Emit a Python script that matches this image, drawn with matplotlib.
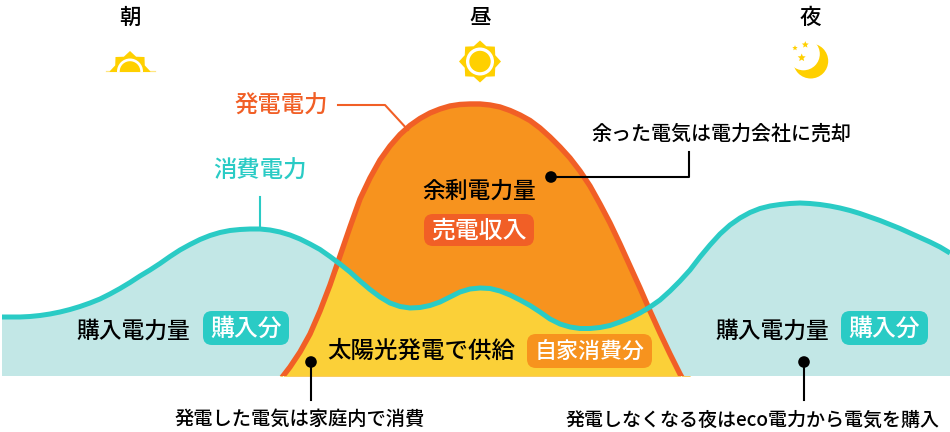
import numpy as np
import matplotlib
matplotlib.use("Agg")
import matplotlib.pyplot as plt
from matplotlib.patches import Circle, FancyBboxPatch, Polygon, Rectangle

plt.rcParams['font.family'] = ['Noto Sans CJK JP', 'DejaVu Sans']

# ---- data (image-space readings along the horizontal time axis) ----
time_x = list(range(0, 960, 10))
consumption = [317, 317, 317, 316.5, 315.5, 314, 312, 309.5, 306.5, 303, 299, 294, 288.5, 282.5, 276, 270,
               263.5, 256.5, 250, 244.5, 239.5, 235.5, 232.5, 230.5, 229.5, 229, 229, 230, 232, 235, 239, 244,
               249.5, 256.5, 264, 272, 281, 289.5, 297, 303, 306.5, 308, 307.5, 305.5, 302, 297, 292, 289,
               288, 288.5, 291, 295, 300, 305.5, 312, 319, 324, 327, 328.5, 328.5, 327.5, 325.5, 322, 318,
               313, 307, 300, 291, 281, 270, 257, 245, 234, 225, 218, 212.5, 208.5, 206, 204.5, 203.5,
               203, 203.5, 204.5, 206, 208, 210.5, 213.5, 217, 220.5, 224.5, 228.5, 233, 237.5, 242, 247, 253]
gen_x = list(range(280, 700, 10))
generation = [380, 367, 352, 334, 311, 285, 256, 227, 199, 178, 160, 146, 134.5, 125.5, 118.5, 113, 109,
              106, 104.5, 104, 104, 105, 107, 110.5, 115, 120.5, 128, 137, 147, 158, 171, 186, 204, 223,
              244, 266, 288, 311, 333, 354, 374, 392]
baseline = 376

time_labels = ["朝", "昼", "夜"]
series_labels = ["発電電力", "消費電力"]

RED = "#F15F26"
ORANGE = "#F7931E"
YELLOW = "#FBD038"
TEAL = "#2ACBC5"
PALE = "#C2E7E6"
SUN = "#FFD000"

fig = plt.figure(figsize=(9.5, 4.32), dpi=100)
ax = fig.add_axes([0, 0, 1, 1])
ax.set_xlim(0, 950)
ax.set_ylim(432, 0)
ax.axis("off")

tx = np.array(time_x, float)
cy = np.array(consumption, float)
gx = np.array(gen_x, float)
gy = np.array(generation, float)
cy_on_g = cy[(tx >= gx[0]) & (tx <= gx[-1])]

clip = Rectangle((0, 0), 950, baseline, transform=ax.transData)

f = ax.fill_between(tx, cy, baseline, color=PALE, lw=0, zorder=1)
f.set_clip_path(clip)
f = ax.fill_between(gx, gy, baseline, color=ORANGE, lw=0, zorder=2)
f.set_clip_path(clip)
f = ax.fill_between(gx, np.maximum(gy, cy_on_g), baseline, color=YELLOW, lw=0, zorder=3)
f.set_clip_path(clip)
l, = ax.plot(gx, gy, color=RED, lw=3.9, zorder=4, solid_joinstyle="round")
l.set_clip_path(clip)
ax.plot(tx, cy, color=TEAL, lw=3.6, zorder=5, solid_joinstyle="round", solid_capstyle="butt")
ax.add_patch(Rectangle((0, 300), 1.5, 80, color="white", lw=0, zorder=6))

# ---- leaders ----
ax.plot([338, 385, 408], [105, 105, 130], color=RED, lw=1.5, zorder=3.5)
ax.plot([260, 260], [197, 229], color=TEAL, lw=1.5, zorder=3.5)
ax.plot([551, 689, 689], [177, 177, 152], color="black", lw=1.5, zorder=7)
ax.plot([311, 311], [362, 400], color="black", lw=1.5, zorder=7)
ax.plot([804, 804], [362, 400], color="black", lw=1.5, zorder=7)
for cx, cyy in [(551, 177), (311, 362), (804, 362)]:
    ax.add_patch(Circle((cx, cyy), 5.8, color="black", lw=0, zorder=8))


def star(cx, cy_, r_out, r_in, n, rot=-90.0):
    ang = np.radians(rot) + np.arange(2 * n) * np.pi / n
    rad = np.where(np.arange(2 * n) % 2 == 0, r_out, r_in)
    return np.column_stack([cx + rad * np.cos(ang), cy_ + rad * np.sin(ang)])


# ---- icons ----
morning_clip = Rectangle((100, 40), 60, 31.5, transform=ax.transData)
for patch in [Polygon(star(130, 71.5, 20.5, 16, 8), color=SUN, lw=0, zorder=3),
              Circle((130, 71.5), 13, color="white", lw=0, zorder=4),
              Circle((130, 71.5), 10.3, color=SUN, lw=0, zorder=5)]:
    ax.add_patch(patch)
    patch.set_clip_path(morning_clip)
ax.plot([106, 155], [71, 71], color="#FFE680", lw=0.9, zorder=2)

ax.add_patch(Polygon(star(480, 61.5, 21, 16.5, 8), color=SUN, lw=0, zorder=3))
ax.add_patch(Circle((480, 61.5), 14, color="white", lw=0, zorder=4))
ax.add_patch(Circle((480, 61.5), 10.7, color=SUN, lw=0, zorder=5))

ax.add_patch(Circle((810.7, 61), 17.5, color=SUN, lw=0, zorder=3))
ax.add_patch(Circle((803.5, 54), 16.3, color="white", lw=0, zorder=4))
for sx, sy, sr in [(805.3, 44.7, 3.6), (795, 48, 2.8), (801.7, 57.7, 4.2)]:
    ax.add_patch(Polygon(star(sx, sy, sr, sr * 0.45, 5), color=SUN, lw=0, zorder=5))


# ---- text ----
def label(x, y, s, size, color="black", ha="center", weight="medium"):
    ax.text(x, y + 1.5, s, fontsize=size, color=color, ha=ha, va="center", weight=weight, zorder=10)


def pill(x0, y0, x1, y1, s, size, color):
    ax.add_patch(FancyBboxPatch((x0 + 9, y0 + 9), x1 - x0 - 18, y1 - y0 - 18,
                                boxstyle="round,pad=9,rounding_size=9", fc=color, ec="none", zorder=9,
                                mutation_aspect=1))
    label((x0 + x1) / 2, (y0 + y1) / 2 - 0.5, s, size, color="white")


for x, s in zip([130, 480, 810], time_labels):
    label(x, 16.5, s, 15.5)
label(281, 105, series_labels[0], 16.8, color=RED)
label(259.5, 170, series_labels[1], 16.8, color=TEAL)
label(479, 190, "余剰電力量", 16.4)
pill(424, 214, 534, 246, "売電収入", 17.2, RED)
label(721, 132, "余った電気は電力会社に売却", 14.4)
label(421, 350, "太陽光発電で供給", 16.9)
pill(527, 334, 652, 368, "自家消費分", 15.8, ORANGE)
label(133, 330, "購入電力量", 16.4)
pill(203, 311, 289, 345, "購入分", 17.2, TEAL)
label(772, 330, "購入電力量", 16.4)
pill(841, 311, 928, 345, "購入分", 17.2, TEAL)
label(300, 418, "発電した電気は家庭内で消費", 13.9)
label(753, 418, "発電しなくなる夜はeco電力から電気を購入", 13.7)

fig.savefig("out.png", dpi=100)
